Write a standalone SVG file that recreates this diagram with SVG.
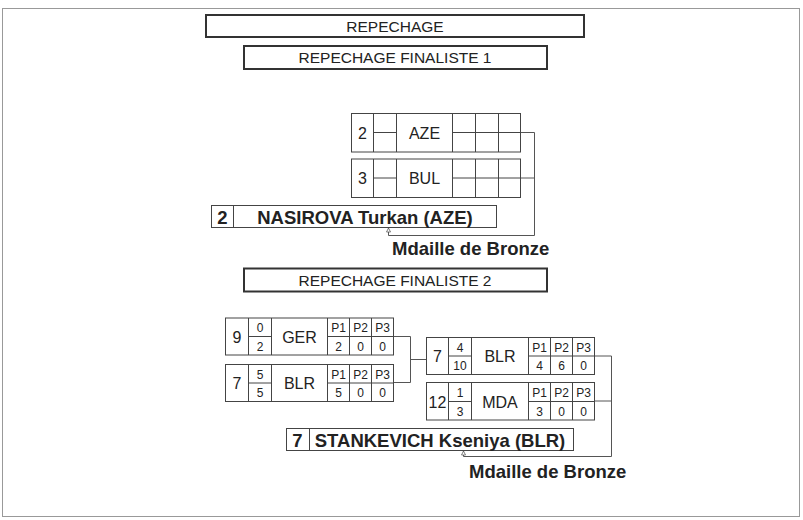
<svg xmlns="http://www.w3.org/2000/svg" width="803" height="520" viewBox="0 0 803 520">
<style>
text{font-family:"Liberation Sans",Arial,sans-serif;fill:#222}
.t{font-size:15.5px;text-anchor:middle}
.tb{fill:#fff;stroke:#333;stroke-width:2}
.cell{fill:#fff;stroke:#444;stroke-width:1}
.ln{fill:none;stroke:#444;stroke-width:1}
.con{fill:none;stroke:#555;stroke-width:1}
.nm{font-size:16px;text-anchor:middle}
.sd{font-size:16px;text-anchor:middle}
.sm{font-size:12px;text-anchor:middle}
.b{font-size:18.5px;font-weight:bold;text-anchor:middle}
.md{font-size:18.5px;font-weight:bold}
</style>
<defs>
<marker id="ar" viewBox="0 0 10 10" refX="9" refY="5" markerWidth="5" markerHeight="7" orient="auto" markerUnits="userSpaceOnUse">
<path d="M1 1 L9 5 L1 9 Z" fill="#fff" stroke="#555" stroke-width="1.5"/>
</marker>
</defs>
<rect x="2.5" y="8.5" width="797" height="508" fill="#fff" stroke="#999" stroke-width="1"/>

<g id="title">
<rect class="tb" x="206" y="15" width="378" height="22"/>
<text class="t" x="395" y="31.5">REPECHAGE</text>
</g>
<g id="title-f1">
<rect class="tb" x="244" y="46" width="303" height="23"/>
<text class="t" x="395" y="63">REPECHAGE FINALISTE 1</text>
</g>
<g id="title-f2">
<rect class="tb" x="244" y="268.5" width="303" height="23"/>
<text class="t" x="395" y="285.5">REPECHAGE FINALISTE 2</text>
</g>

<g id="connectors">
<path class="con" d="M521 132.5 H534.5 V235.5 H388.5 V228" marker-end="url(#ar)"/>
<path class="con" d="M521 178 H534.5"/>
<path class="con" d="M394 336.5 H410.5 V382.5 H394"/>
<path class="con" d="M410.5 359.5 H426"/>
<path class="con" d="M594 356 H611.5 V456.5 H463.5 V451" marker-end="url(#ar)"/>
<path class="con" d="M594 401 H611.5"/>
</g>

<g id="aze" transform="translate(351,113)">
<rect class="cell" x="0.5" y="0.5" width="169" height="38.5"/>
<path class="ln" d="M22.5 0.5 V39 M45.5 0.5 V39 M101.5 0.5 V39 M124.5 0.5 V39 M147.5 0.5 V39 M22.5 19.5 H45.5 M101.5 19.5 H169.5"/>
<text class="sd" x="11.5" y="25.5">2</text>
<text class="nm" x="73.5" y="25.5">AZE</text>
</g>
<g id="bul" transform="translate(351,158.5)">
<rect class="cell" x="0.5" y="0.5" width="169" height="38.5"/>
<path class="ln" d="M22.5 0.5 V39 M45.5 0.5 V39 M101.5 0.5 V39 M124.5 0.5 V39 M147.5 0.5 V39 M22.5 19.5 H45.5 M101.5 19.5 H169.5"/>
<text class="sd" x="11.5" y="25.5">3</text>
<text class="nm" x="73.5" y="25.5">BUL</text>
</g>
<g id="winner1">
<rect class="cell" x="211.5" y="205.5" width="285" height="22"/>
<path class="ln" d="M233.5 205.5 V227.5"/>
<text class="b" x="222.5" y="223.5">2</text>
<text class="b" x="365" y="223.5">NASIROVA Turkan (AZE)</text>
</g>
<g id="medal1">
<text class="md" x="392" y="255">Mdaille de Bronze</text>
</g>

<g id="ger" transform="translate(225,317.5)">
<rect class="cell" x="0.5" y="0.5" width="168" height="37"/>
<path class="ln" d="M23.5 0.5 V37.5 M46.5 0.5 V37.5 M102.5 0.5 V37.5 M124.5 0.5 V37.5 M146.5 0.5 V37.5 M23.5 19 H46.5 M102.5 19 H168.5"/>
<text class="sd" x="12" y="25">9</text>
<text class="sm" x="35" y="14.5">0</text>
<text class="sm" x="35" y="33">2</text>
<text class="nm" x="74.5" y="25">GER</text>
<text class="sm" x="113.5" y="14.5">P1</text>
<text class="sm" x="135.5" y="14.5">P2</text>
<text class="sm" x="157.5" y="14.5">P3</text>
<text class="sm" x="113.5" y="33">2</text>
<text class="sm" x="135.5" y="33">0</text>
<text class="sm" x="157.5" y="33">0</text>
</g>
<g id="blr1" transform="translate(225,364)">
<rect class="cell" x="0.5" y="0.5" width="168" height="37"/>
<path class="ln" d="M23.5 0.5 V37.5 M46.5 0.5 V37.5 M102.5 0.5 V37.5 M124.5 0.5 V37.5 M146.5 0.5 V37.5 M23.5 19 H46.5 M102.5 19 H168.5"/>
<text class="sd" x="12" y="25">7</text>
<text class="sm" x="35" y="14.5">5</text>
<text class="sm" x="35" y="33">5</text>
<text class="nm" x="74.5" y="25">BLR</text>
<text class="sm" x="113.5" y="14.5">P1</text>
<text class="sm" x="135.5" y="14.5">P2</text>
<text class="sm" x="157.5" y="14.5">P3</text>
<text class="sm" x="113.5" y="33">5</text>
<text class="sm" x="135.5" y="33">0</text>
<text class="sm" x="157.5" y="33">0</text>
</g>
<g id="blr2" transform="translate(426,337)">
<rect class="cell" x="0.5" y="0.5" width="168" height="37"/>
<path class="ln" d="M22.5 0.5 V37.5 M45.5 0.5 V37.5 M102.5 0.5 V37.5 M124.5 0.5 V37.5 M146.5 0.5 V37.5 M22.5 19 H45.5 M102.5 19 H168.5"/>
<text class="sd" x="11.5" y="25">7</text>
<text class="sm" x="34" y="14.5">4</text>
<text class="sm" x="34" y="33">10</text>
<text class="nm" x="74" y="25">BLR</text>
<text class="sm" x="113.5" y="14.5">P1</text>
<text class="sm" x="135.5" y="14.5">P2</text>
<text class="sm" x="157.5" y="14.5">P3</text>
<text class="sm" x="113.5" y="33">4</text>
<text class="sm" x="135.5" y="33">6</text>
<text class="sm" x="157.5" y="33">0</text>
</g>
<g id="mda" transform="translate(426,382)">
<rect class="cell" x="0.5" y="0.5" width="168" height="37.5"/>
<path class="ln" d="M22.5 0.5 V38 M45.5 0.5 V38 M102.5 0.5 V38 M124.5 0.5 V38 M146.5 0.5 V38 M22.5 19.5 H45.5 M102.5 19.5 H168.5"/>
<text class="sd" x="11.5" y="25.5">12</text>
<text class="sm" x="34" y="15">1</text>
<text class="sm" x="34" y="33.5">3</text>
<text class="nm" x="74" y="25.5">MDA</text>
<text class="sm" x="113.5" y="15">P1</text>
<text class="sm" x="135.5" y="15">P2</text>
<text class="sm" x="157.5" y="15">P3</text>
<text class="sm" x="113.5" y="33.5">3</text>
<text class="sm" x="135.5" y="33.5">0</text>
<text class="sm" x="157.5" y="33.5">0</text>
</g>
<g id="winner2">
<rect class="cell" x="286.5" y="428.5" width="287" height="22"/>
<path class="ln" d="M309.5 428.5 V450.5"/>
<text class="b" x="297.5" y="446.5">7</text>
<text class="b" x="440" y="446.5">STANKEVICH Kseniya (BLR)</text>
</g>
<g id="medal2">
<text class="md" x="469" y="478">Mdaille de Bronze</text>
</g>
</svg>
